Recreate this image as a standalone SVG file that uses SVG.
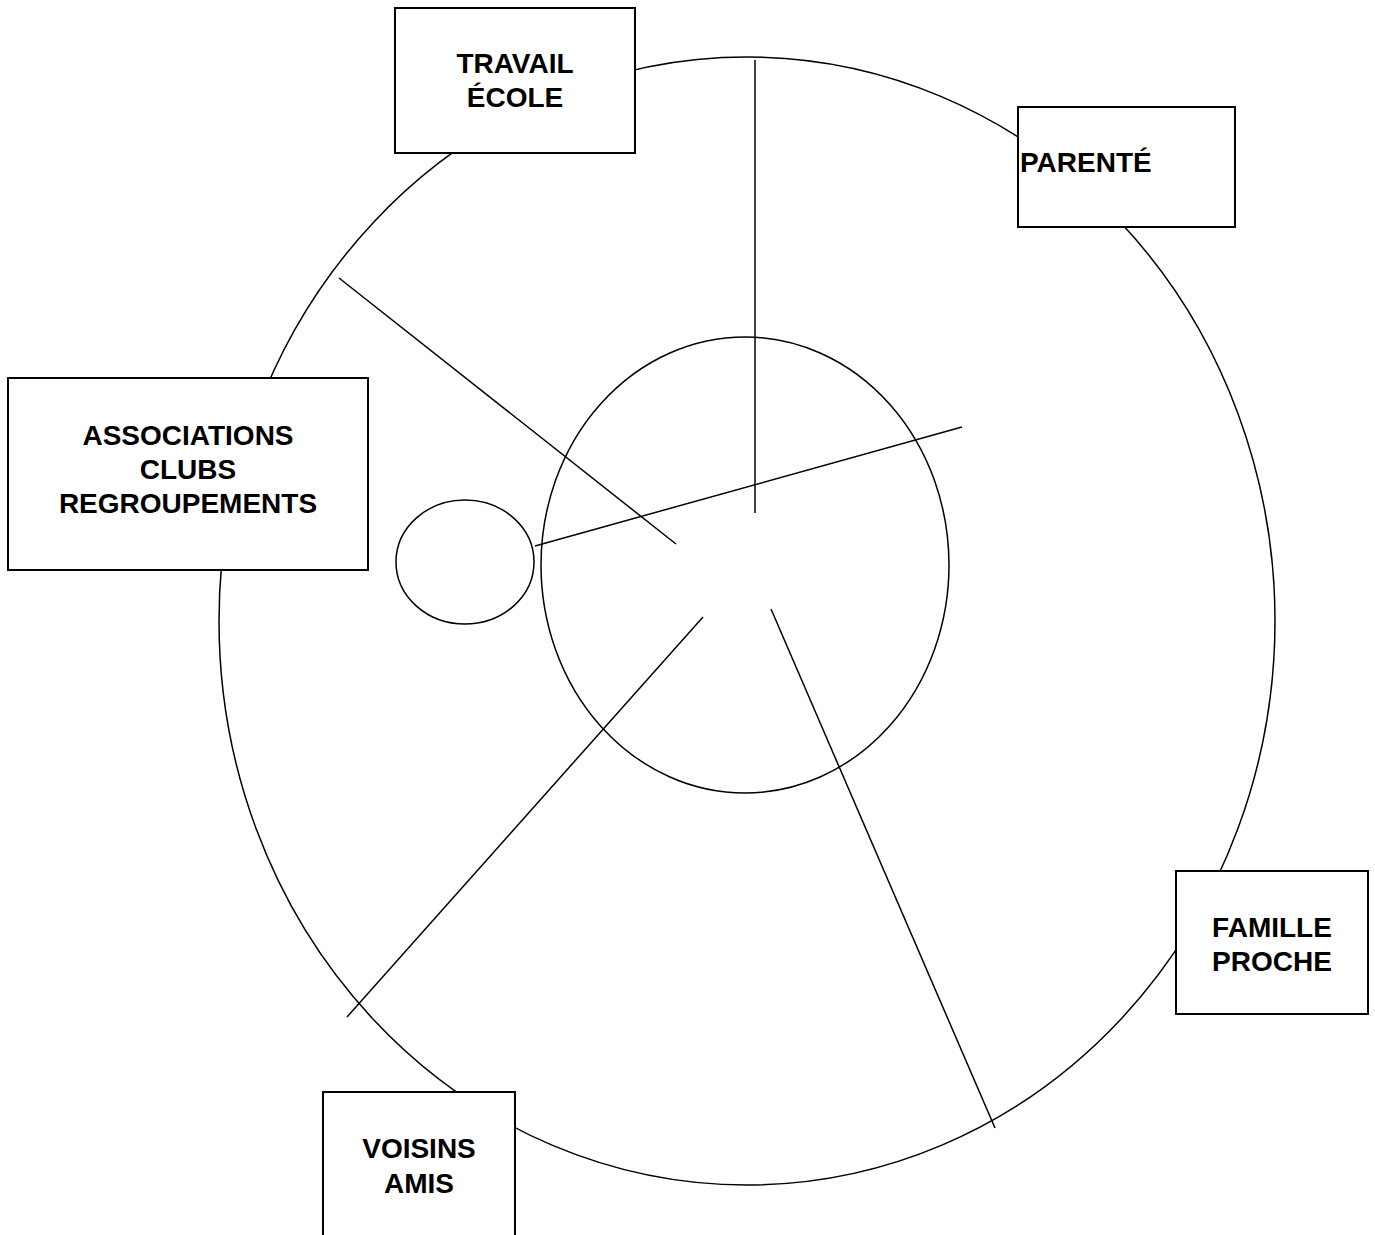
<svg xmlns="http://www.w3.org/2000/svg" width="1375" height="1235" viewBox="0 0 1375 1235">
<style>
.shape{fill:none;stroke:#000;stroke-width:1.5}
.box{fill:#fff;stroke:#000;stroke-width:2}
.lbl{font-family:"Liberation Sans",Arial,sans-serif;font-weight:bold;font-size:28px;fill:#000}
.c{text-anchor:middle}
</style>
<rect width="1375" height="1235" fill="#fff"/>
<g id="outer-circle"><ellipse class="shape" cx="747" cy="621" rx="528" ry="564"/></g>
<g id="inner-circle"><ellipse class="shape" cx="745" cy="565" rx="204" ry="228"/></g>
<g id="small-circle"><ellipse class="shape" cx="465" cy="562" rx="69" ry="62"/></g>
<g id="connectors" stroke="#000" stroke-width="1.5" fill="none">
<line x1="755" y1="60" x2="755" y2="513"/>
<line x1="339" y1="278" x2="676" y2="544"/>
<line x1="535" y1="546" x2="962" y2="427"/>
<line x1="703" y1="617" x2="347" y2="1017"/>
<line x1="771" y1="609" x2="995" y2="1128"/>
</g>
<g id="travail"><rect class="box" x="395" y="8" width="240" height="145"/><text class="lbl c" x="515" y="73">TRAVAIL</text><text class="lbl c" x="515" y="107">ÉCOLE</text></g>
<g id="parente"><rect class="box" x="1018" y="107" width="217" height="120"/><text class="lbl" x="1020" y="172">PARENTÉ</text></g>
<g id="associations"><rect class="box" x="8" y="378" width="360" height="192"/><text class="lbl c" x="188" y="445">ASSOCIATIONS</text><text class="lbl c" x="188" y="479">CLUBS</text><text class="lbl c" x="188" y="513">REGROUPEMENTS</text></g>
<g id="famille"><rect class="box" x="1176" y="871" width="192" height="143"/><text class="lbl c" x="1272" y="937">FAMILLE</text><text class="lbl c" x="1272" y="971">PROCHE</text></g>
<g id="voisins"><rect class="box" x="323" y="1092" width="192" height="160"/><text class="lbl c" x="419" y="1158">VOISINS</text><text class="lbl c" x="419" y="1193">AMIS</text></g>
</svg>
